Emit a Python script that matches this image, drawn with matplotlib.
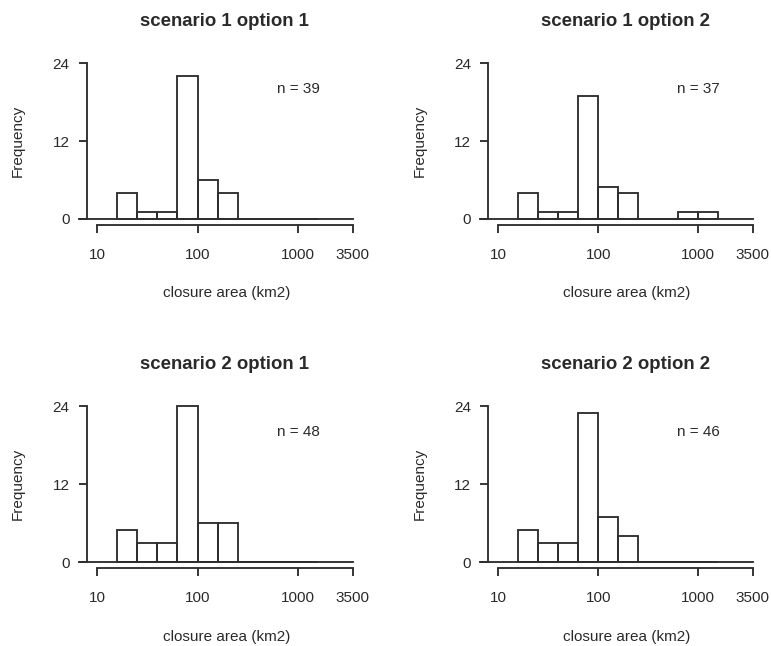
import matplotlib.pyplot as plt
import numpy as np

plt.rcParams['font.family'] = ['Liberation Sans', 'DejaVu Sans']

# histogram bins (log10 of closure area, km2)
log_edges = [1.2, 1.4, 1.6, 1.8, 2.0, 2.2, 2.4, 2.6, 2.8, 3.0, 3.2]

titles = ["scenario 1 option 1", "scenario 1 option 2",
          "scenario 2 option 1", "scenario 2 option 2"]
n_labels = ["n = 39", "n = 37", "n = 48", "n = 46"]

counts_s1o1 = [4, 1, 1, 22, 6, 4, 0, 0, 0, 0]
counts_s1o2 = [4, 1, 1, 19, 5, 4, 0, 0, 1, 1]
counts_s2o1 = [5, 3, 3, 24, 6, 6, 0, 0, 0, 0]
counts_s2o2 = [5, 3, 3, 23, 7, 4, 0, 0, 0, 0]
all_counts = [counts_s1o1, counts_s1o2, counts_s2o1, counts_s2o2]

xticks = [10, 100, 1000, 3500]
xtick_labels = ["10", "100", "1000", "3500"]
yticks = [0, 12, 24]

line_col = '#2e2e2e'
text_col = '#2a2a2a'
lw = 1.35

fig = plt.figure(figsize=(7.71, 6.46), dpi=100)

# axes boxes (left, bottom, width, height) in figure fraction
boxes = [(0.1125, 0.6514, 0.3584, 0.2602),
         (0.6330, 0.6514, 0.3565, 0.2602),
         (0.1125, 0.1200, 0.3584, 0.2610),
         (0.6330, 0.1200, 0.3565, 0.2610)]

edges = 10 ** np.array(log_edges)
lefts = edges[:-1]
widths = edges[1:] - edges[:-1]

for box, title, nlab, counts in zip(boxes, titles, n_labels, all_counts):
    ax = fig.add_axes(box)
    ax.set_xscale('log')
    ax.set_xlim(10 ** 0.898, 10 ** 3.646)
    ax.set_ylim(-0.96, 24.96)

    ax.bar(lefts, counts, width=widths, align='edge', fill=False,
           edgecolor=line_col, linewidth=lw)
    # baseline at zero
    ax.plot([10 ** 0.818, 3500], [0, 0], color=line_col, lw=lw, clip_on=False)

    ax.text(1000, 20, nlab, ha='center', va='center', fontsize=11, color=text_col)

    for s in ['top', 'right']:
        ax.spines[s].set_visible(False)
    ax.spines['left'].set_bounds(0, 24)
    ax.spines['bottom'].set_bounds(10, 3500)
    for s in ['left', 'bottom']:
        ax.spines[s].set_color(line_col)
        ax.spines[s].set_linewidth(lw)

    ax.set_xticks(xticks)
    ax.set_xticklabels(xtick_labels)
    ax.xaxis.set_minor_locator(plt.NullLocator())
    ax.set_yticks(yticks)
    ax.tick_params(axis='both', direction='out', length=5.8, width=lw,
                   color=line_col, labelcolor=text_col, labelsize=11)
    ax.tick_params(axis='x', pad=10.5)
    ax.tick_params(axis='y', pad=6.5)

    ax.set_title(title, fontsize=13.4, fontweight='bold', color=text_col,
                 y=1.183, pad=0)
    ax.set_xlabel("closure area (km2)", fontsize=11, color=text_col)
    ax.xaxis.set_label_coords(0.505, -0.404)
    ax.xaxis.label.set_verticalalignment('center')
    ax.set_ylabel("Frequency", fontsize=11, color=text_col)
    ax.yaxis.set_label_coords(-0.249, 0.5)
    ax.yaxis.label.set_verticalalignment('center')

fig.savefig("out.png", dpi=100, facecolor='white')
